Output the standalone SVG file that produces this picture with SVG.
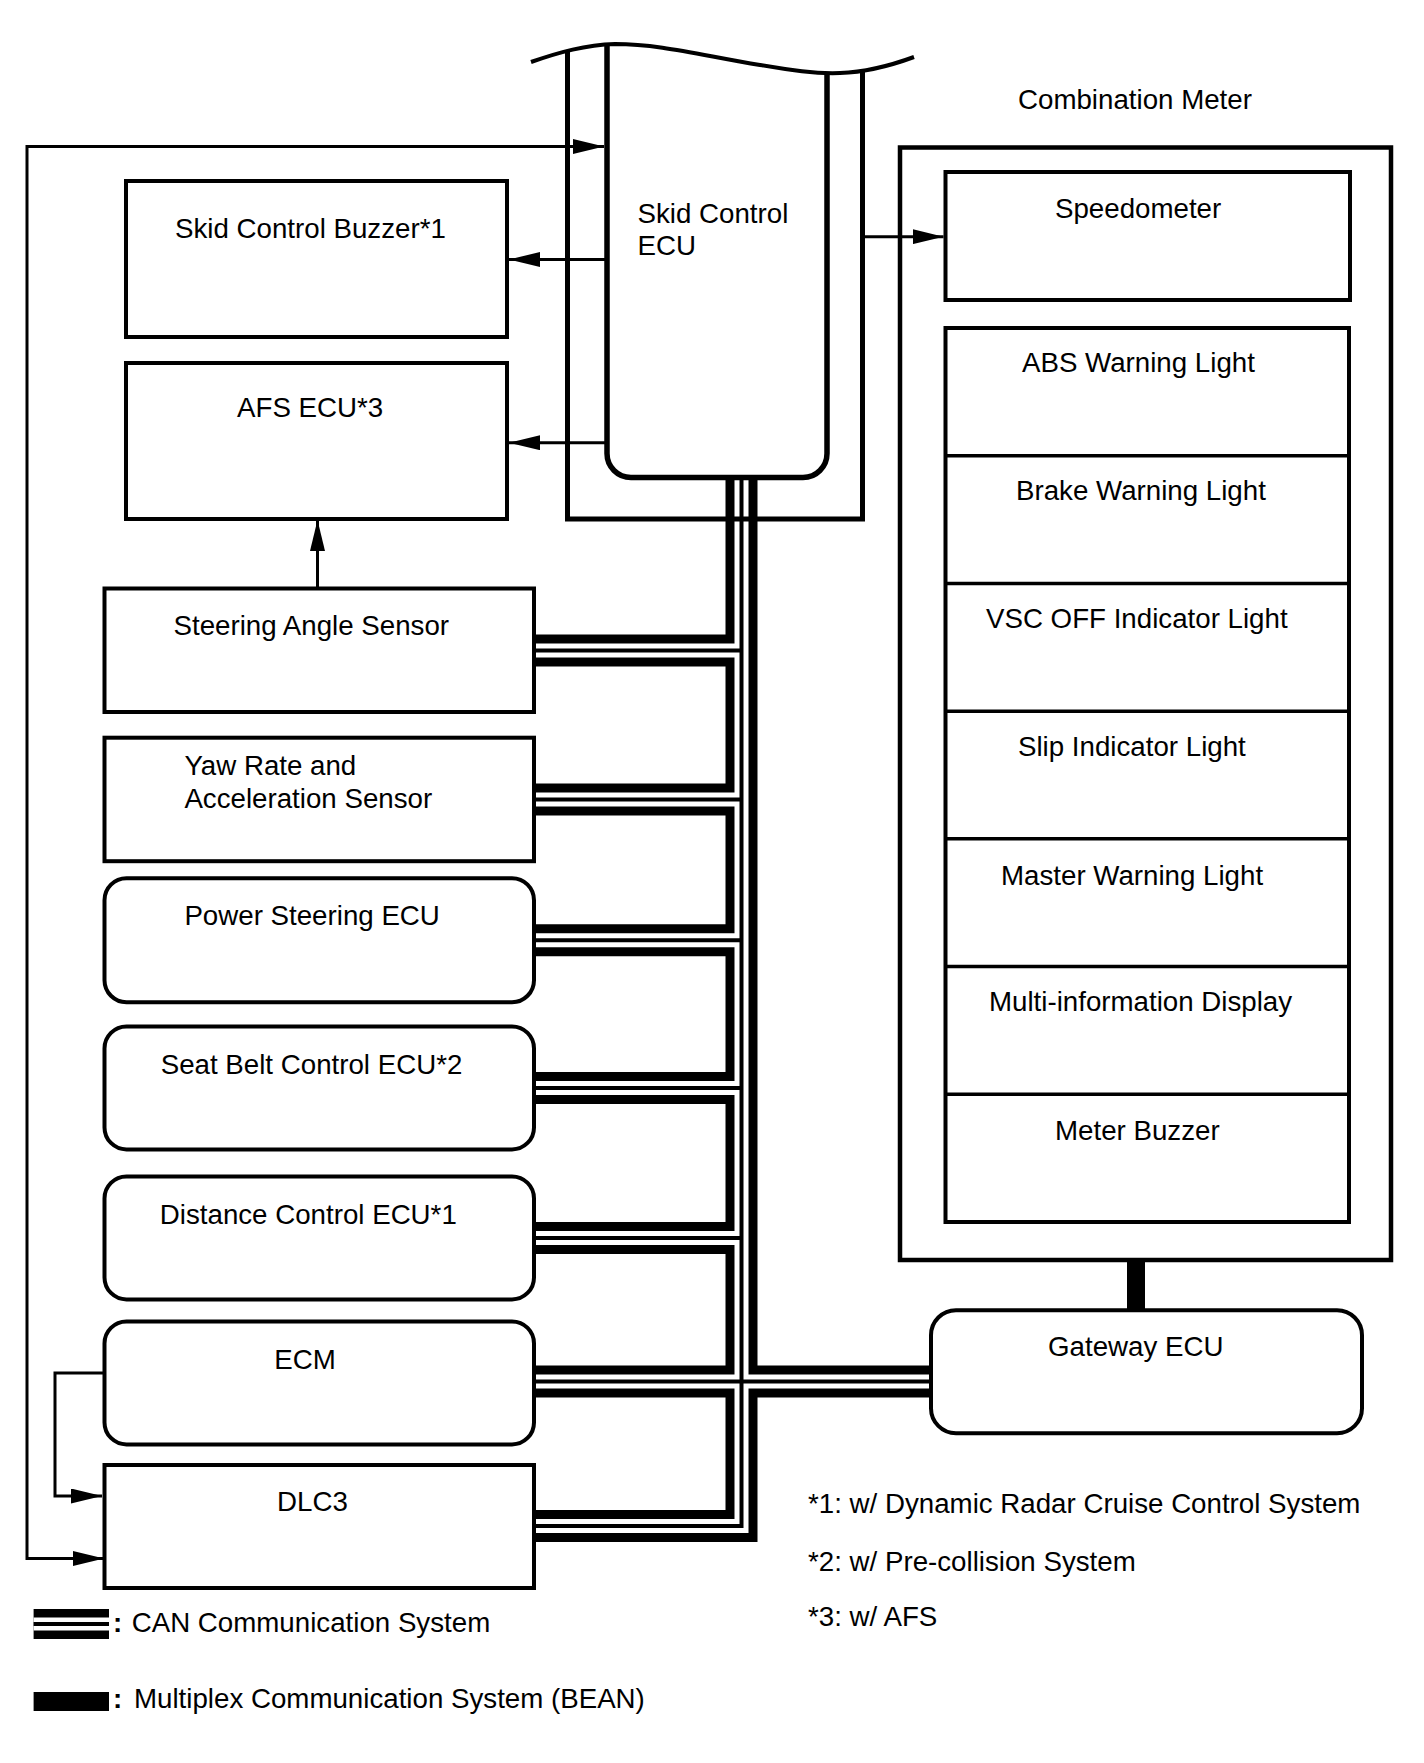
<svg xmlns="http://www.w3.org/2000/svg" width="1424" height="1763" viewBox="0 0 1424 1763">
<style>
.t{font-family:"Liberation Sans",Arial,Helvetica,sans-serif;font-size:27.7px;fill:#000}
.b{font-weight:bold}
.box{fill:none;stroke:#000;stroke-width:4}
.ln{fill:none;stroke:#000;stroke-width:3}
.canA{fill:none;stroke:#000;stroke-width:32;stroke-linejoin:miter}
.canB{fill:none;stroke:#fff;stroke-width:14;stroke-linejoin:miter}
.canC{fill:none;stroke:#000;stroke-width:4;stroke-linejoin:miter}
</style>
<defs>
<marker id="ah" markerUnits="userSpaceOnUse" markerWidth="31" markerHeight="15" viewBox="0 0 31 15" refX="31" refY="7.5" orient="auto-start-reverse"><path d="M0,0 L31,7.5 L0,15 Z" fill="#000"/></marker>
<clipPath id="below"><path d="M531,62 C560,52 585,45 615,44 C660,44 700,55 760,65 C790,70 815,74 840,73 C870,72 895,64 914,57 L914,600 L531,600 Z"/></clipPath>
</defs>
<rect width="1424" height="1763" fill="#fff"/>

<g id="connectors">
<path class="ln" d="M604,146.5 H27 V1558.5 H104" marker-start="url(#ah)" marker-end="url(#ah)"/>
<path class="ln" d="M607,259.5 H509" marker-end="url(#ah)"/>
<path class="ln" d="M607,442.7 H509" marker-end="url(#ah)"/>
<path class="ln" d="M317.5,588.5 V520" marker-end="url(#ah)"/>
<path class="ln" d="M862.5,236.7 H943.5" marker-end="url(#ah)"/>
<path class="ln" d="M104,1373 H55 V1496 H102" marker-end="url(#ah)"/>
<rect x="1127" y="1258" width="18" height="54" fill="#000"/>
<g id="can-bus">
<path class="canA" d="M741.5,478 V1526 H534"/>
<path class="canA" d="M741.5,650.5 H534 M741.5,799.5 H534 M741.5,940.2 H534 M741.5,1088 H534 M741.5,1238 H534 M534,1381.5 H933"/>
<path class="canB" d="M741.5,478 V1526 H534"/>
<path class="canB" d="M741.5,650.5 H534 M741.5,799.5 H534 M741.5,940.2 H534 M741.5,1088 H534 M741.5,1238 H534 M534,1381.5 H933"/>
<path class="canC" d="M741.5,478 V1526 H534"/>
<path class="canC" d="M741.5,650.5 H534 M741.5,799.5 H534 M741.5,940.2 H534 M741.5,1088 H534 M741.5,1238 H534 M534,1381.5 H933"/>
</g>
</g>

<g id="skid-control-ecu">
<path d="M567.5,20 V519 H862.5 V20" fill="none" stroke="#000" stroke-width="5" clip-path="url(#below)"/>
<path d="M607,20 V453.5 A24 24 0 0 0 631,477.5 H803 A24 24 0 0 0 827,453.5 V20" fill="none" stroke="#000" stroke-width="5.5" clip-path="url(#below)"/>
<path d="M531,62 C560,52 585,45 615,44 C660,44 700,55 760,65 C790,70 815,74 840,73 C870,72 895,64 914,57" fill="none" stroke="#000" stroke-width="4"/>
<text class="t" x="637.5" y="223.3">Skid Control</text>
<text class="t" x="637.5" y="255">ECU</text>
</g>

<g id="skid-control-buzzer">
<rect class="box" x="126" y="181" width="381" height="156"/>
<text class="t" x="175" y="238">Skid Control Buzzer*1</text>
</g>
<g id="afs-ecu">
<rect class="box" x="126" y="363" width="381" height="156"/>
<text class="t" x="237" y="417">AFS ECU*3</text>
</g>
<g id="steering-angle-sensor">
<rect class="box" x="104.5" y="588.5" width="429.5" height="123.5"/>
<text class="t" x="173.5" y="635">Steering Angle Sensor</text>
</g>
<g id="yaw-rate-sensor">
<rect class="box" x="104.5" y="737.7" width="429.5" height="123.5"/>
<text class="t" x="184.4" y="774.5">Yaw Rate and</text>
<text class="t" x="184.4" y="807.9">Acceleration Sensor</text>
</g>
<g id="power-steering-ecu">
<rect class="box" x="104.5" y="878.2" width="429.5" height="124" rx="22"/>
<text class="t" x="184.4" y="924.5">Power Steering ECU</text>
</g>
<g id="seat-belt-control-ecu">
<rect class="box" x="104.5" y="1026.4" width="429.5" height="123" rx="22"/>
<text class="t" x="160.7" y="1074.4">Seat Belt Control ECU*2</text>
</g>
<g id="distance-control-ecu">
<rect class="box" x="104.5" y="1176.4" width="429.5" height="123" rx="22"/>
<text class="t" x="159.8" y="1223.9">Distance Control ECU*1</text>
</g>
<g id="ecm">
<rect class="box" x="104.5" y="1321.4" width="429.5" height="123" rx="22"/>
<text class="t" x="274.3" y="1369.4">ECM</text>
</g>
<g id="dlc3">
<rect class="box" x="104.5" y="1465" width="429.5" height="123"/>
<text class="t" x="277" y="1511">DLC3</text>
</g>

<g id="combination-meter">
<text class="t" x="1018" y="109">Combination Meter</text>
<rect x="900" y="147.5" width="491" height="1112.5" fill="none" stroke="#000" stroke-width="4.5"/>
<g id="speedometer">
<rect class="box" x="945.5" y="172" width="404.5" height="128"/>
<text class="t" x="1055" y="218">Speedometer</text>
</g>
<g id="indicators">
<rect class="box" x="945.5" y="328" width="403.5" height="894"/>
<path d="M945.5,455.8 H1349 M945.5,583.5 H1349 M945.5,711.2 H1349 M945.5,838.8 H1349 M945.5,966.5 H1349 M945.5,1094.3 H1349" fill="none" stroke="#000" stroke-width="3.5"/>
<text class="t" x="1022" y="372">ABS Warning Light</text>
<text class="t" x="1016" y="500">Brake Warning Light</text>
<text class="t" x="986" y="628">VSC OFF Indicator Light</text>
<text class="t" x="1018" y="756">Slip Indicator Light</text>
<text class="t" x="1001" y="885">Master Warning Light</text>
<text class="t" x="989" y="1011">Multi-information Display</text>
<text class="t" x="1055" y="1140">Meter Buzzer</text>
</g>
</g>

<g id="gateway-ecu">
<rect class="box" x="931" y="1310.2" width="431" height="123" rx="25"/>
<text class="t" x="1048" y="1355.5">Gateway ECU</text>
</g>

<g id="notes">
<text class="t" x="808" y="1513">*1: w/ Dynamic Radar Cruise Control System</text>
<text class="t" x="808" y="1571">*2: w/ Pre-collision System</text>
<text class="t" x="808" y="1626">*3: w/ AFS</text>
</g>

<g id="legend">
<path class="canA" d="M33.6,1624 H109" style="stroke-width:30"/>
<path class="canB" d="M33.6,1624 H109" style="stroke-width:13"/>
<path class="canC" d="M33.6,1624 H109"/>
<text class="t b" x="113" y="1632">:</text>
<text class="t" x="131.7" y="1632">CAN Communication System</text>
<rect x="33.6" y="1692" width="75.4" height="19" fill="#000"/>
<text class="t b" x="113" y="1708">:</text>
<text class="t" x="134" y="1708">Multiplex Communication System (BEAN)</text>
</g>
</svg>
